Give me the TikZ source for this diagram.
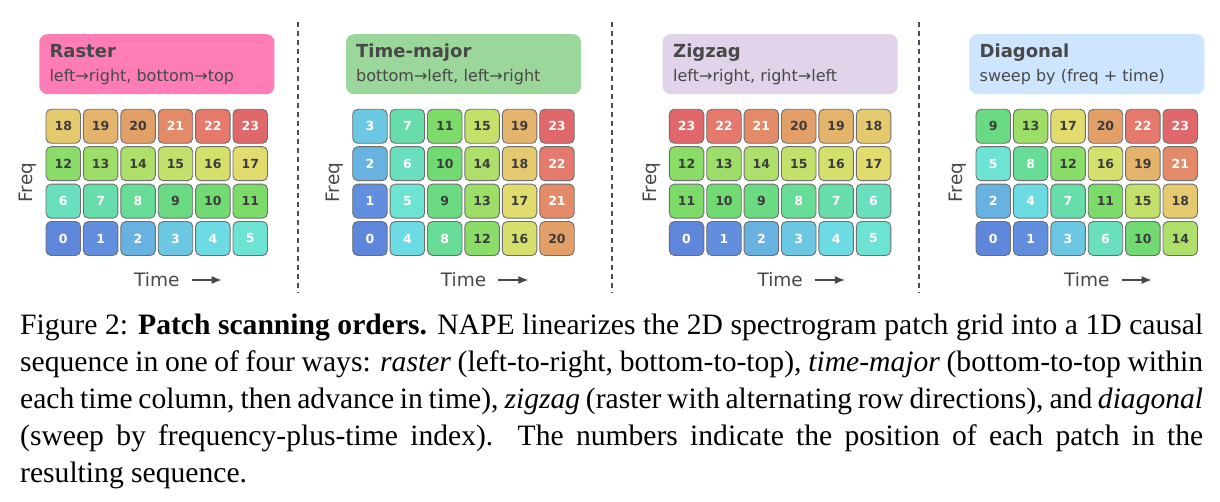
\documentclass[tikz,border=0pt]{standalone}
\usepackage{fontspec}
\setmainfont{Liberation Serif}
\newfontfamily\dejavu{DejaVu Sans}
\usetikzlibrary{arrows.meta,positioning}

\definecolor{c0}{HTML}{5E86DA}
\definecolor{c1}{HTML}{618EDD}
\definecolor{c2}{HTML}{67B2E0}
\definecolor{c3}{HTML}{6BC7E2}
\definecolor{c4}{HTML}{6CDBE3}
\definecolor{c5}{HTML}{6CE3D3}
\definecolor{c6}{HTML}{69DFBE}
\definecolor{c7}{HTML}{66DDAA}
\definecolor{c8}{HTML}{67DC96}
\definecolor{c9}{HTML}{6BDB83}
\definecolor{c10}{HTML}{72DA73}
\definecolor{c11}{HTML}{7CDB69}
\definecolor{c12}{HTML}{89DD68}
\definecolor{c13}{HTML}{9DDE69}
\definecolor{c14}{HTML}{AEDF6A}
\definecolor{c15}{HTML}{C3E06B}
\definecolor{c16}{HTML}{D5E06C}
\definecolor{c17}{HTML}{E2DB6D}
\definecolor{c18}{HTML}{E5C96E}
\definecolor{c19}{HTML}{E4B46C}
\definecolor{c20}{HTML}{E29F68}
\definecolor{c21}{HTML}{E38A68}
\definecolor{c22}{HTML}{E5796C}
\definecolor{c23}{HTML}{E0676A}
\definecolor{numtxt}{HTML}{3C3C3C}
\definecolor{hdrtxt}{HTML}{484848}
\definecolor{cellline}{HTML}{6E6E6E}
\definecolor{rastercol}{HTML}{FF7DB6}
\definecolor{timecol}{HTML}{9BD69B}
\definecolor{zigcol}{HTML}{E1D3E9}
\definecolor{diagcol}{HTML}{CDE5FF}

\tikzset{
  cell/.style={draw=cellline,line width=0.9pt,rounded corners=5pt,minimum width=34.5pt,
    minimum height=34pt,inner sep=0pt,font=\dejavu\bfseries\fontsize{12.5}{12.5}\selectfont},
  hdr/.style={rounded corners=8pt,minimum width=235pt,minimum height=60pt,inner sep=0pt},
  hdrtitle/.style={anchor=base west,inner sep=0pt,text=hdrtxt,font=\dejavu\bfseries\fontsize{18}{18}\selectfont},
  hdrsub/.style={anchor=base west,inner sep=0pt,text=hdrtxt,font=\dejavu\fontsize{16}{16}\selectfont},
  axislabel/.style={inner sep=0pt,text=hdrtxt,font=\dejavu\fontsize{18.5}{18.5}\selectfont},
  sep/.style={draw=black!70,line width=1.3pt,dash pattern=on 5pt off 4pt}
}

% #1 name, #2 left edge of the grid, #3 rows from top to bottom
\newcommand{\patchgrid}[3]{
  \foreach \row [count=\rw] in {#3}{
    \foreach \idx [count=\cl] in \row{
      \ifnum\idx<9 \def\tc{white}\else\ifnum\idx>20 \def\tc{white}\else\def\tc{numtxt}\fi\fi
      \node[cell,fill=c\idx,text=\tc] (#1-\rw-\cl) at ({#2+17.25+37.4*(\cl-1)},{126.3+37.4*(\rw-1)}) {\idx};
    }
  }
  \node[axislabel,rotate=90] (#1-freq) at ({#2-18},182.5) {Freq};
  \node[axislabel] (#1-time) at ({#2+110.85},280) {Time};
  \coordinate[right=12pt of #1-time.east] (#1-ta);
  \coordinate[right=42pt of #1-time.east] (#1-tb);
  \draw[-{Latex[length=10pt,width=8pt]},line width=1.4pt,hdrtxt] (#1-ta)--(#1-tb);
}

\begin{document}
\begin{tikzpicture}[x=1pt,y=-1pt]
\useasboundingbox (0,0) rectangle (1220,502);

% headers
\node[hdr,fill=rastercol] (h1) at (156.85,64.2) {};
\node[hdrtitle] (h1a) at (49.3,58) {Raster};
\node[hdrsub] (h1b) at (49.3,82) {left→right, bottom→top};

\node[hdr,fill=timecol] (h2) at (463.55,64.2) {};
\node[hdrtitle] (h2a) at (356,58) {Time-major};
\node[hdrsub] (h2b) at (356,82) {bottom→left, left→right};

\node[hdr,fill=zigcol] (h3) at (780.15,64.2) {};
\node[hdrtitle] (h3a) at (673,58) {Zigzag};
\node[hdrsub] (h3b) at (673,82) {left→right, right→left};

\node[hdr,fill=diagcol] (h4) at (1086.85,64.2) {};
\node[hdrtitle] (h4a) at (979.5,58) {Diagonal};
\node[hdrsub] (h4b) at (979.5,82) {sweep by (freq + time)};

% grids
\patchgrid{ra}{46}{{18,19,20,21,22,23},{12,13,14,15,16,17},{6,7,8,9,10,11},{0,1,2,3,4,5}}
\patchgrid{tm}{352.7}{{3,7,11,15,19,23},{2,6,10,14,18,22},{1,5,9,13,17,21},{0,4,8,12,16,20}}
\patchgrid{zz}{669.3}{{23,22,21,20,19,18},{12,13,14,15,16,17},{11,10,9,8,7,6},{0,1,2,3,4,5}}
\patchgrid{dg}{976}{{9,13,17,20,22,23},{5,8,12,16,19,21},{2,4,7,11,15,18},{0,1,3,6,10,14}}

% separators
\draw[sep] (298,22)--(298,293);
\draw[sep] (612,22)--(612,293);
\draw[sep] (919,22)--(919,293);

% caption
\node[anchor=north west,inner sep=0pt,text width=1183pt,align=justify,
  font=\fontsize{29.6}{37}\selectfont] (cap) at (20,314) {\hyphenpenalty=10000\tolerance=9999
Figure 2: \textbf{Patch scanning orders.} NAPE linearizes the 2D spectrogram patch grid into a 1D causal\linebreak
sequence in one of four ways: \textit{raster} (left-to-right, bottom-to-top), \textit{time-major} (bottom-to-top within\linebreak
each time column, then advance in time), \textit{zigzag} (raster with alternating row directions), and \textit{diagonal}\linebreak
(sweep by frequency-plus-time index).  The numbers indicate the position of each patch in the\linebreak
resulting sequence.};

\end{tikzpicture}
\end{document}
